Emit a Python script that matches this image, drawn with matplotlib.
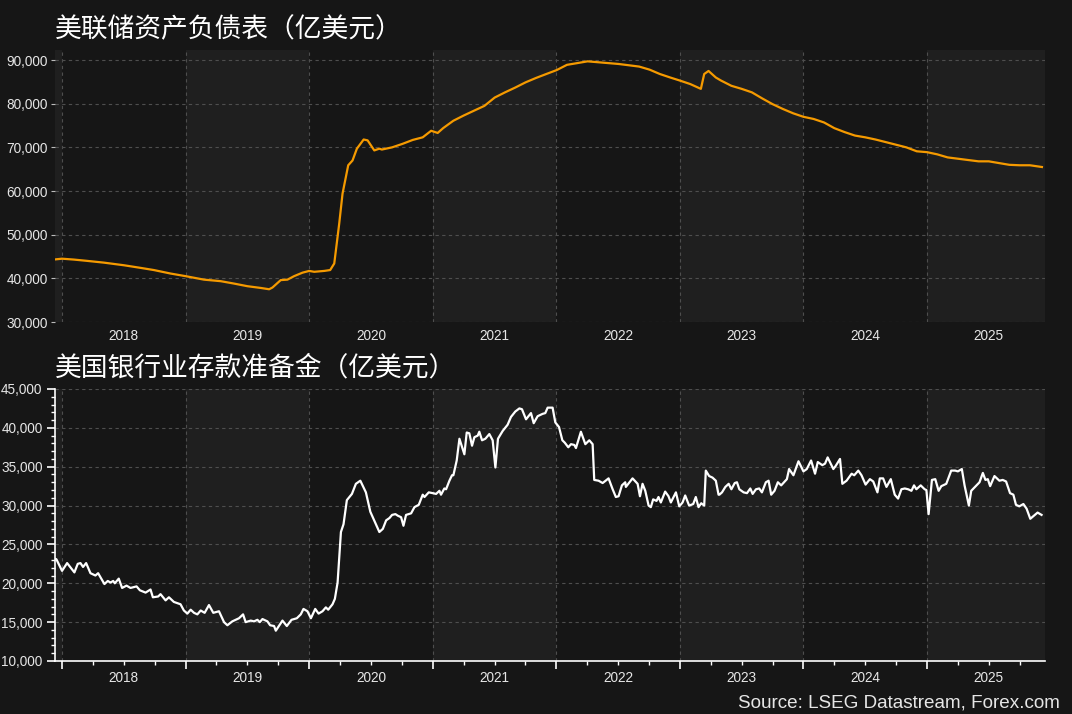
import matplotlib.pyplot as plt
from matplotlib.ticker import FixedLocator, FuncFormatter, MultipleLocator
import numpy as np

# Fed balance sheet, 100m USD (dates as decimal years)
bs_years = [2017.932, 2018.0, 2018.095, 2018.203, 2018.338, 2018.5, 2018.635, 2018.743,
            2018.878, 2019.0, 2019.149, 2019.284, 2019.392, 2019.5, 2019.608, 2019.676,
            2019.703, 2019.770, 2019.824, 2019.878, 2019.946, 2020.0, 2020.041, 2020.122,
            2020.170, 2020.203, 2020.243, 2020.270, 2020.316, 2020.351, 2020.386, 2020.441,
            2020.473, 2020.527, 2020.568, 2020.588, 2020.671, 2020.755, 2020.838, 2020.919,
            2020.987, 2021.040, 2021.084, 2021.167, 2021.251, 2021.334, 2021.418, 2021.501,
            2021.585, 2021.668, 2021.752, 2021.836, 2021.919, 2022.003, 2022.086, 2022.170,
            2022.253, 2022.337, 2022.420, 2022.504, 2022.588, 2022.671, 2022.755, 2022.838,
            2022.922, 2023.0, 2023.084, 2023.170, 2023.197, 2023.232, 2023.291, 2023.333,
            2023.417, 2023.5, 2023.583, 2023.667, 2023.750, 2023.833, 2023.917, 2024.0,
            2024.083, 2024.167, 2024.25, 2024.333, 2024.417, 2024.5, 2024.583, 2024.667,
            2024.75, 2024.833, 2024.917, 2025.0, 2025.083, 2025.167, 2025.25, 2025.333,
            2025.417, 2025.5, 2025.583, 2025.667, 2025.75, 2025.833, 2025.930]
bs_values = [44300, 44500, 44300, 44000, 43600, 43000, 42400, 41900,
             41100, 40500, 39700, 39350, 38800, 38200, 37800, 37500,
             37900, 39600, 39700, 40500, 41300, 41700, 41500, 41700,
             41900, 43400, 52500, 59400, 65900, 67000, 69700, 71800,
             71600, 69300, 69700, 69500, 70000, 70800, 71700, 72300,
             73800, 73300, 74400, 76100, 77300, 78400, 79500, 81400,
             82600, 83700, 84900, 85900, 86800, 87700, 88900, 89300,
             89700, 89500, 89300, 89100, 88800, 88500, 87800, 86800,
             86000, 85300, 84500, 83400, 86800, 87500, 86000, 85300,
             84100, 83400, 82600, 81200, 79900, 78800, 77800, 77000,
             76500, 75700, 74400, 73500, 72700, 72300, 71800, 71200,
             70600, 70000, 69100, 68900, 68400, 67700, 67400, 67100,
             66800, 66800, 66400, 66000, 65900, 65900, 65500]

# US bank reserve balances, 100m USD
rs_years = [2017.932, 2017.954, 2018.0, 2018.041, 2018.100, 2018.127, 2018.149, 2018.170,
            2018.195, 2018.230, 2018.270, 2018.292, 2018.343, 2018.370, 2018.392, 2018.414,
            2018.427, 2018.459, 2018.486, 2018.522, 2018.554, 2018.603, 2018.630, 2018.676,
            2018.716, 2018.735, 2018.778, 2018.797, 2018.838, 2018.865, 2018.905, 2018.959,
            2018.986, 2019.014, 2019.041, 2019.068, 2019.095, 2019.122, 2019.154, 2019.189,
            2019.224, 2019.270, 2019.311, 2019.338, 2019.378, 2019.432, 2019.465, 2019.486,
            2019.527, 2019.554, 2019.581, 2019.600, 2019.622, 2019.662, 2019.684, 2019.716,
            2019.730, 2019.784, 2019.819, 2019.857, 2019.900, 2019.932, 2019.954, 2019.986,
            2020.014, 2020.049, 2020.076, 2020.108, 2020.135, 2020.154, 2020.189, 2020.208,
            2020.230, 2020.257, 2020.278, 2020.305, 2020.346, 2020.378, 2020.414, 2020.459,
            2020.495, 2020.568, 2020.596, 2020.623, 2020.650, 2020.671, 2020.698, 2020.717,
            2020.744, 2020.763, 2020.784, 2020.825, 2020.852, 2020.887, 2020.919, 2020.933,
            2020.968, 2021.000, 2021.027, 2021.054, 2021.067, 2021.094, 2021.108, 2021.135,
            2021.156, 2021.167, 2021.194, 2021.216, 2021.256, 2021.275, 2021.296, 2021.318,
            2021.337, 2021.364, 2021.377, 2021.399, 2021.426, 2021.458, 2021.485, 2021.507,
            2021.528, 2021.566, 2021.606, 2021.633, 2021.668, 2021.701, 2021.722, 2021.755,
            2021.795, 2021.817, 2021.849, 2021.889, 2021.911, 2021.930, 2021.970, 2021.992,
            2022.022, 2022.049, 2022.068, 2022.097, 2022.119, 2022.146, 2022.159, 2022.199,
            2022.235, 2022.267, 2022.294, 2022.307, 2022.342, 2022.375, 2022.423, 2022.456,
            2022.482, 2022.504, 2022.531, 2022.558, 2022.563, 2022.617, 2022.658, 2022.677,
            2022.698, 2022.720, 2022.747, 2022.765, 2022.784, 2022.811, 2022.827, 2022.846,
            2022.881, 2022.908, 2022.927, 2022.968, 2022.995, 2023.022, 2023.043, 2023.075,
            2023.108, 2023.129, 2023.151, 2023.173, 2023.197, 2023.210, 2023.237, 2023.264,
            2023.291, 2023.313, 2023.320, 2023.341, 2023.368, 2023.395, 2023.417, 2023.444,
            2023.462, 2023.481, 2023.516, 2023.543, 2023.570, 2023.589, 2023.616, 2023.642,
            2023.664, 2023.696, 2023.718, 2023.739, 2023.766, 2023.793, 2023.820, 2023.866,
            2023.884, 2023.919, 2023.960, 2024.000, 2024.027, 2024.062, 2024.094, 2024.116,
            2024.153, 2024.175, 2024.196, 2024.242, 2024.261, 2024.296, 2024.315, 2024.349,
            2024.390, 2024.411, 2024.444, 2024.470, 2024.503, 2024.538, 2024.565, 2024.599,
            2024.618, 2024.645, 2024.672, 2024.707, 2024.739, 2024.766, 2024.793, 2024.820,
            2024.847, 2024.874, 2024.895, 2024.914, 2024.949, 2024.981, 2024.995, 2025.013,
            2025.040, 2025.067, 2025.094, 2025.116, 2025.156, 2025.196, 2025.228, 2025.250,
            2025.282, 2025.304, 2025.339, 2025.358, 2025.425, 2025.452, 2025.473, 2025.492,
            2025.511, 2025.546, 2025.586, 2025.613, 2025.640, 2025.672, 2025.699, 2025.720,
            2025.747, 2025.780, 2025.806, 2025.836, 2025.895, 2025.927]
rs_values = [23200, 23100, 21600, 22600, 21400, 22500, 22600, 22100,
             22600, 21300, 21000, 21300, 19900, 20300, 20100, 20300,
             20000, 20600, 19400, 19700, 19400, 19600, 19100, 18800,
             19200, 18200, 18300, 18600, 17800, 18200, 17600, 17300,
             16500, 16100, 16600, 16200, 16000, 16500, 16200, 17200,
             16200, 16400, 15000, 14600, 15100, 15500, 16000, 15000,
             15200, 15100, 15300, 15000, 15400, 15100, 14600, 14500,
             13900, 15200, 14500, 15300, 15500, 16000, 16700, 16400,
             15500, 16700, 16100, 16400, 16900, 16600, 17300, 18000,
             20100, 26600, 27600, 30700, 31500, 32800, 33200, 31700,
             29200, 26600, 27000, 28100, 28400, 28800, 28900, 28700,
             28500, 27400, 28800, 29000, 29800, 30100, 31400, 31100,
             31700, 31600, 31500, 31900, 31400, 32200, 32100, 33200,
             33900, 33900, 35800, 38600, 36600, 39400, 39300, 37700,
             38800, 39000, 39500, 38400, 38600, 39200, 38400, 34900,
             38600, 39600, 40400, 41400, 42100, 42500, 42400, 41100,
             41900, 40600, 41500, 41800, 41900, 42600, 42600, 40700,
             40100, 38400, 38100, 37500, 37900, 37800, 37400, 39500,
             37900, 38400, 37900, 33300, 33200, 32900, 33500, 32100,
             31100, 31200, 32600, 33000, 32400, 33500, 32800, 31200,
             32800, 31900, 30000, 29800, 30800, 30600, 31100, 30400,
             31800, 31200, 30400, 31700, 29900, 30400, 31300, 30000,
             30200, 31100, 29800, 30300, 30000, 34500, 33800, 33600,
             33200, 31400, 31400, 31700, 32400, 32800, 32100, 32900,
             33000, 32100, 31700, 31600, 32200, 31500, 32100, 32200,
             31700, 33000, 33200, 31400, 31900, 33000, 32600, 33400,
             34700, 33900, 35700, 34400, 34700, 35800, 34100, 35600,
             35200, 35400, 36200, 34700, 35100, 36000, 32800, 33200,
             34100, 33900, 34500, 33900, 32700, 33400, 33100, 31700,
             33500, 33500, 32400, 33400, 31400, 30900, 32100, 32200,
             32100, 31900, 32600, 32100, 32600, 32100, 32000, 28900,
             33300, 33400, 31900, 32500, 32800, 34500, 34500, 34400,
             34700, 32600, 30000, 31900, 33000, 34200, 33300, 33400,
             32500, 33800, 33200, 33300, 33100, 31600, 31400, 30100,
             29900, 30200, 29600, 28300, 29100, 28800]

titles = ['美联储资产负债表（亿美元）', '美国银行业存款准备金（亿美元）']

bg = '#161616'
band = '#1f1f1f'
txt = '#e6e6e6'
x0, x1 = 2017.943, 2025.955

plt.rcParams['font.family'] = ['Liberation Sans', 'DejaVu Sans']
fig = plt.figure(figsize=(10.72, 7.14), dpi=100, facecolor=bg)
ax1 = fig.add_axes([55/1072, 1-322/714, 990/1072, 272/714])
ax2 = fig.add_axes([55/1072, 1-661/714, 990/1072, 272/714])


def year_fmt(v, pos):
    # label only the mid-year minor tick
    if abs(v - np.floor(v) - 0.5) < 1e-6:
        return str(int(np.floor(v)))
    return ''


for ax in (ax1, ax2):
    ax.set_facecolor(bg)
    for y in range(2017, 2026, 2):
        ax.axvspan(y, y + 1, color=band, zorder=0, lw=0)
    ax.set_xlim(x0, x1)
    ax.xaxis.set_major_locator(FixedLocator(list(range(2018, 2026))))
    ax.xaxis.set_major_formatter(FuncFormatter(lambda v, p: ''))
    ax.xaxis.set_minor_locator(FixedLocator(list(np.arange(2017.75, 2026, 0.25))))
    ax.xaxis.set_minor_formatter(FuncFormatter(year_fmt))
    ax.yaxis.set_major_formatter(FuncFormatter(lambda v, p: f'{v:,.0f}'))
    ax.grid(True, which='major', color='#4e4e4e', ls=(0, (3, 3)), lw=0.8)
    ax.tick_params(which='both', colors=txt, labelsize=9.8)
    ax.set_axisbelow(True)

ax1.plot(bs_years, bs_values, color='#f59a00', lw=1.6, zorder=3)
ax1.set_ylim(30000, 92300)
ax1.yaxis.set_major_locator(MultipleLocator(10000))
for s in ax1.spines.values():
    s.set_visible(False)
ax1.tick_params(axis='x', which='both', length=0, pad=5)
ax1.tick_params(axis='y', length=3, pad=2, color='#bbbbbb')

ax2.plot(rs_years, rs_values, color='white', lw=1.6, zorder=3)
ax2.set_ylim(10000, 45000)
ax2.yaxis.set_major_locator(MultipleLocator(5000))
ax2.yaxis.set_minor_locator(MultipleLocator(1000))
for k in ('top', 'right'):
    ax2.spines[k].set_visible(False)
for k in ('left', 'bottom'):
    ax2.spines[k].set_color('white')
    ax2.spines[k].set_linewidth(1.2)
ax2.tick_params(axis='both', which='major', length=6, width=1.2, color='white')
ax2.tick_params(axis='both', which='minor', length=3, width=1, color='white')
ax2.tick_params(axis='x', which='minor', pad=4)
ax2.tick_params(axis='y', which='major', pad=3)

fig.text(55/1072, 1-30/714, titles[0], color='white', fontsize=19.3, va='center',
         family=['Noto Sans CJK SC', 'DejaVu Sans'])
fig.text(55/1072, 1-368/714, titles[1], color='white', fontsize=19.3, va='center',
         family=['Noto Sans CJK SC', 'DejaVu Sans'])
fig.text(1060/1072, 1-703/714, 'Source: LSEG Datastream, Forex.com', color=txt,
         fontsize=13.6, ha='right', va='center')

fig.savefig('out.png', dpi=100, facecolor=bg)
